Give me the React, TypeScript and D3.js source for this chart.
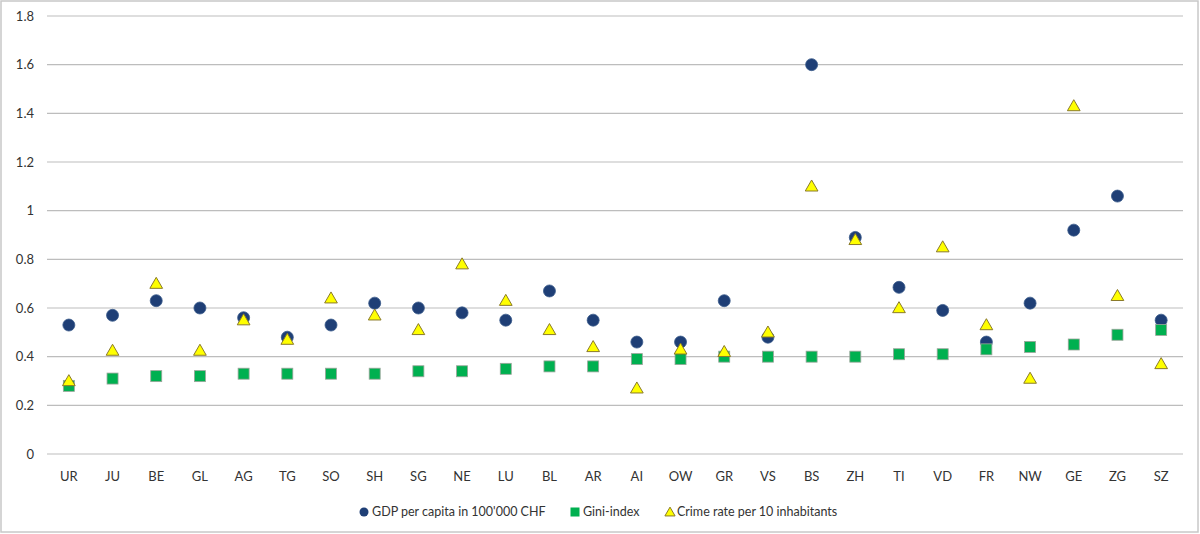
import React from "react";
import * as d3 from "d3";

const cantons = ["UR","JU","BE","GL","AG","TG","SO","SH","SG","NE","LU","BL","AR","AI","OW","GR","VS","BS","ZH","TI","VD","FR","NW","GE","ZG","SZ"];
const gdp = [0.53,0.57,0.63,0.60,0.56,0.48,0.53,0.62,0.60,0.58,0.55,0.67,0.55,0.46,0.46,0.63,0.48,1.60,0.89,0.685,0.59,0.46,0.62,0.92,1.06,0.55];
const gini = [0.28,0.31,0.32,0.32,0.33,0.33,0.33,0.33,0.34,0.34,0.35,0.36,0.36,0.39,0.39,0.40,0.40,0.40,0.40,0.41,0.41,0.43,0.44,0.45,0.49,0.51];
const crime = [0.30,0.425,0.70,0.425,0.55,0.47,0.64,0.57,0.51,0.78,0.63,0.51,0.44,0.27,0.43,0.42,0.50,1.10,0.88,0.60,0.85,0.53,0.31,1.43,0.65,0.37];
const yTicks = [0,0.2,0.4,0.6,0.8,1,1.2,1.4,1.6,1.8];
const legendLabels = ["GDP per capita in 100'000 CHF","Gini-index","Crime rate per 10 inhabitants"];

const W = 1200, H = 534;
const FONT = "Lato, 'Open Sans', sans-serif";
const C_GDP = "#1F3F76";
const C_GINI = "#00B050";
const C_CRIME = "#FFFF00";

export default function App() {
  const x = d3.scaleBand<string>().domain(cantons).range([47, 1183]);
  const y = d3.scaleLinear().domain([0, 1.8]).range([454, 16]);
  const cx = (c: string) => (x(c) as number) + x.bandwidth() / 2;
  const tri = d3.symbol().type(d3.symbolTriangle).size(70)();
  const triL = d3.symbol().type(d3.symbolTriangle).size(45)();

  return (
    <div style={{ position: "absolute", left: 0, top: 0 }}>
      <svg width={W} height={H} style={{ display: "block", background: "#fff" }}>
        <rect x={1} y={1} width={W - 3} height={H - 3} fill="#fff" stroke="#c8c8c8" strokeWidth={1.5} />
        {yTicks.map((t) => (
          <g key={t}>
            <line x1={47} x2={1183} y1={y(t)} y2={y(t)} stroke="#bdbdbd" strokeWidth={1.2} />
            <text x={34} y={y(t)} dy="0.35em" textAnchor="end" fontFamily={FONT} fontSize={13} fill="#333">{String(t)}</text>
          </g>
        ))}
        {cantons.map((c) => (
          <text key={c} x={cx(c)} y={476} dy="0.35em" textAnchor="middle" fontFamily={FONT} fontSize={13} fill="#333">{c}</text>
        ))}
        {cantons.map((c, i) => (
          <circle key={"g" + c} cx={cx(c)} cy={y(gdp[i])} r={6} fill={C_GDP} stroke="#3a5a8a" strokeWidth={0.8} />
        ))}
        {cantons.map((c, i) => (
          <rect key={"s" + c} x={cx(c) - 5.5} y={y(gini[i]) - 5.5} width={11} height={11} fill={C_GINI} stroke="#9aa59a" strokeWidth={0.8} />
        ))}
        {cantons.map((c, i) => (
          <path key={"t" + c} d={tri as string} transform={`translate(${cx(c)},${y(crime[i]) + 1})`} fill={C_CRIME} stroke="#8a7a2a" strokeWidth={1} />
        ))}
        <g fontFamily={FONT} fontSize={12.5} fill="#333">
          <circle cx={364} cy={512} r={4.5} fill={C_GDP} />
          <text x={372} y={512} dy="0.35em">{legendLabels[0]}</text>
          <rect x={570.5} y={507.5} width={9} height={9} fill={C_GINI} />
          <text x={583} y={512} dy="0.35em">{legendLabels[1]}</text>
          <path d={triL as string} transform="translate(670,513)" fill={C_CRIME} stroke="#8a7a2a" strokeWidth={1} />
          <text x={677} y={512} dy="0.35em">{legendLabels[2]}</text>
        </g>
      </svg>
    </div>
  );
}
